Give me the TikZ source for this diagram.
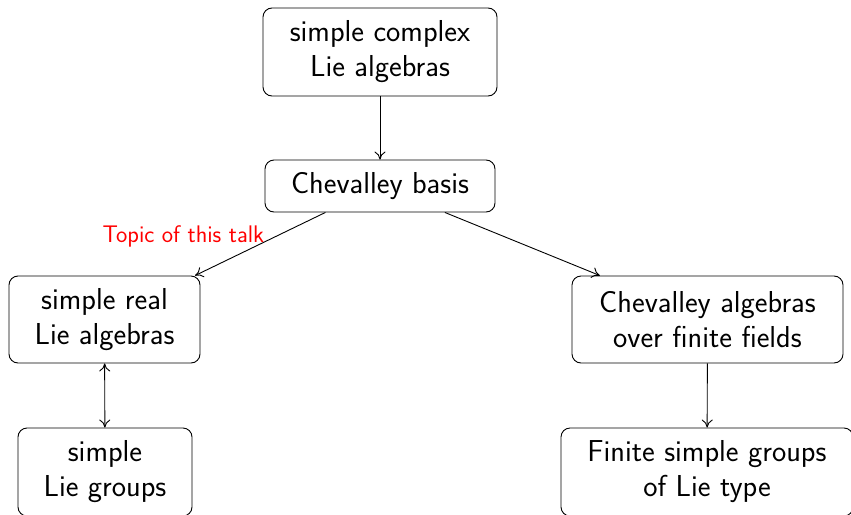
\documentclass[tikz,border=0pt]{standalone}
\usetikzlibrary{arrows.meta}
\begin{document}
\begin{tikzpicture}[x=1pt,y=-1pt,
  box/.style={draw, rounded corners=9pt, line width=0.9pt, align=center, inner sep=0pt,
    font=\sffamily\fontsize{30.3}{35}\selectfont},
  conn/.style={line width=0.9pt, -{To[length=8pt,width=11pt]}},
  both/.style={line width=0.9pt, {To[length=8pt,width=11pt]}-{To[length=8pt,width=11pt]}},
  lbl/.style={red, font=\sffamily\fontsize{24}{28}\selectfont, inner sep=2pt}]
\useasboundingbox (0,0) rectangle (851,514);
\node[box, minimum width=234pt, minimum height=88pt] (top) at (380,52) {simple complex\\Lie algebras};
\node[box, minimum width=230pt, minimum height=52pt] (cb) at (380,186) {Chevalley basis};
\node[box, minimum width=191pt, minimum height=87pt] (sr) at (104.5,319.5) {simple real\\Lie algebras};
\node[box, minimum width=271pt, minimum height=87pt] (ca) at (707.5,319.5) {Chevalley algebras\\over finite fields};
\node[box, minimum width=174pt, minimum height=88pt] (lg) at (105,472) {simple\\Lie groups};
\node[box, minimum width=292pt, minimum height=88pt] (fs) at (707,472) {Finite simple groups\\of Lie type};
\draw[conn] (top) -- (cb);
\draw[conn] (cb) -- node[lbl, pos=0.374, anchor=east, xshift=-10pt] {Topic of this talk} (sr);
\draw[conn] (cb) -- (ca);
\draw[conn] (ca) -- (fs);
\draw[both] (sr) -- (lg);
\end{tikzpicture}
\end{document}
